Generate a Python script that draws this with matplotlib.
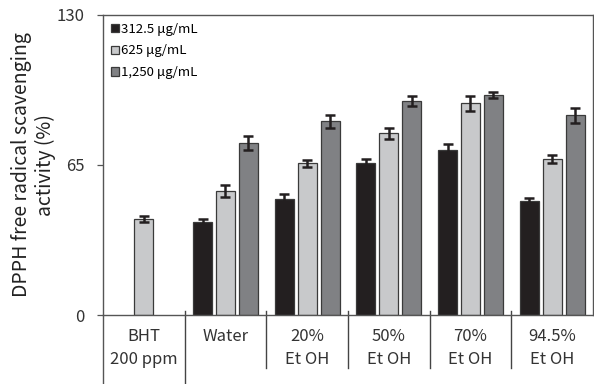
import numpy as np
import matplotlib
matplotlib.use("Agg")
import matplotlib.pyplot as plt
import matplotlib.transforms as mtransforms

# ==========================================
# Data
# ==========================================

groups = ["BHT\n200 ppm", "Water", "20%\nEt OH", "50%\nEt OH", "70%\nEt OH", "94.5%\nEt OH"]
series_names = ["312.5 \u03bcg/mL", "625 \u03bcg/mL", "1,250 \u03bcg/mL"]

low_vals = [np.nan, 40.3, 50.1, 65.7, 71.5, 49.5]
low_err = [np.nan, 1.3, 2.3, 1.9, 2.5, 1.0]

mid_vals = [41.7, 53.7, 65.7, 78.7, 91.7, 67.6]
mid_err = [1.2, 2.5, 1.5, 2.3, 3.2, 1.9]

high_vals = [np.nan, 74.5, 83.9, 92.7, 95.3, 86.5]
high_err = [np.nan, 3.0, 2.8, 2.2, 1.3, 3.3]

colors = ["#231f20", "#c8c9cb", "#808184"]

plt.rcParams["font.family"] = ["Noto Sans CJK KR", "DejaVu Sans"]

# ==========================================
# Figure
# ==========================================

fig = plt.figure(figsize=(5.94, 3.84), dpi=100)
ax = fig.add_axes([103 / 594, 69 / 384, 490 / 594, 300 / 384])

x = np.arange(len(groups))
step = 0.28
width = 0.232

err_kw = dict(ecolor="#231f20", elinewidth=1.8, capsize=3.5, capthick=1.8)

for i, (vals, errs) in enumerate([(low_vals, low_err), (mid_vals, mid_err), (high_vals, high_err)]):
    ax.bar(x + (i - 1) * step, vals, width, yerr=errs,
           color=colors[i], edgecolor="#3a3a3a", linewidth=0.9,
           label=series_names[i], error_kw=err_kw, zorder=2)

ax.set_xlim(-0.5, len(groups) - 0.5)
ax.set_ylim(0, 130)
ax.set_yticks([0, 65, 130])
ax.set_xticks([])

ax.tick_params(axis="y", direction="out", length=4, width=0.9,
               color="#555555", labelsize=12, pad=9, labelcolor="#333333")

for s in ax.spines.values():
    s.set_color("#555555")
    s.set_linewidth(1.0)

ax.set_ylabel("DPPH free radical scavenging\nactivity (%)", fontsize=14,
              labelpad=1, linespacing=1.15, color="#222222")

# category labels and separators below the axis
trans = mtransforms.blended_transform_factory(ax.transData, ax.transAxes)

for i, g in enumerate(groups):
    lines = g.split("\n")
    for j, t in enumerate(lines):
        ax.text(x[i], -0.073 - j * 0.077, t, transform=trans,
                ha="center", va="center", fontsize=12, color="#333333")

for i in range(len(groups) - 1):
    xb = x[i] + 0.5
    bottom = -0.25 if i == 0 else -0.177
    ax.plot([xb, xb], [0.013, bottom], transform=trans, color="#444444",
            linewidth=1.0, clip_on=False)

ax.plot([-0.5, -0.5], [0, -0.25], transform=trans, color="#555555",
        linewidth=1.0, clip_on=False)

ax.legend(loc="upper left", frameon=False, fontsize=9.5,
          handlelength=0.6, handleheight=0.6, handletextpad=0.2,
          labelspacing=0.65, borderaxespad=0.3, borderpad=0.3)

fig.savefig("out.png", dpi=100)
